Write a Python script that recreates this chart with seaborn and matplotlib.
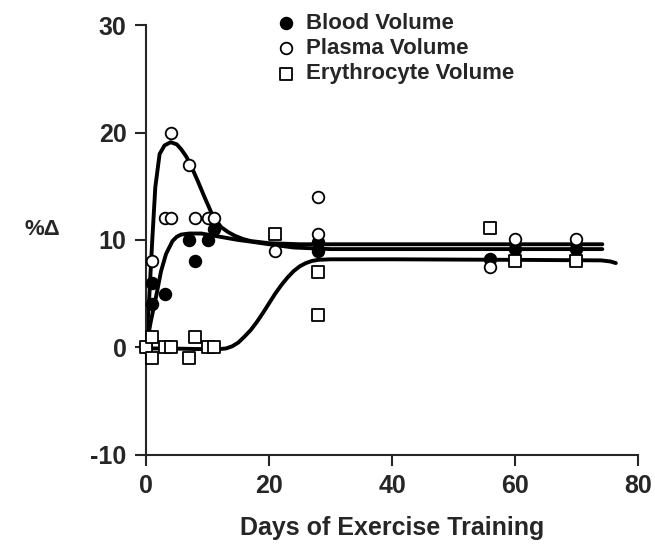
import matplotlib
matplotlib.use('Agg')
import matplotlib.pyplot as plt
import pandas as pd
import seaborn as sns

# measured points (% change vs day of training)
blood_days = [0, 1, 1, 3, 7, 8, 10, 11, 28, 28, 56, 60, 70]
blood_pct = [0, 6, 4, 5, 10, 8, 10, 11, 9.8, 9.0, 8.2, 9.2, 9.2]

plasma_days = [1, 3, 4, 4, 7, 8, 10, 11, 21, 28, 28, 56, 60, 70]
plasma_pct = [8, 12, 12, 20, 17, 12, 12, 12, 9.0, 14, 10.6, 7.5, 10.1, 10.1]

eryth_days = [0, 1, 1, 3, 4, 7, 8, 10, 11, 21, 28, 28, 56, 60, 70]
eryth_pct = [0, 1, -1, 0, 0, -1, 1, 0, 0, 10.6, 7, 3, 11.1, 8.0, 8.0]

# fitted curves
plasma_fit_x = [0, 0.5, 1, 1.5, 2.2, 3, 4, 5, 5.7, 6.5, 7.2, 8.4, 9.5, 10.8, 12.2, 13.3, 14.4, 15.7, 17, 18.5, 20, 22.5, 25, 30, 74.2]
plasma_fit_y = [0, 4.5, 9.9, 14.9, 18, 18.8, 19.1, 18.9, 18.45, 17.8, 17.05, 15.5, 14.0, 12.3, 11.2, 10.75, 10.4, 10.1, 9.9, 9.8, 9.7, 9.65, 9.6, 9.6, 9.6]

blood_fit_x = [0, 0.8, 1.6, 2.44, 3.25, 4.3, 5.0, 5.7, 7, 9, 11, 13, 15, 17, 20, 24, 30, 74.2]
blood_fit_y = [0, 2.5, 4.65, 7.1, 8.7, 9.9, 10.3, 10.5, 10.6, 10.6, 10.4, 10.2, 10.0, 9.85, 9.6, 9.3, 9.15, 9.15]

eryth_fit_x = [0, 4, 8, 12, 13, 14, 15, 16, 17, 18, 19, 20, 21, 22, 23, 24, 25, 26, 27, 28, 30, 40, 60, 74, 75.5, 76.4]
eryth_fit_y = [-0.1, -0.1, -0.15, -0.15, -0.1, 0.1, 0.45, 1.0, 1.6, 2.35, 3.2, 4.1, 5.0, 5.8, 6.5, 7.1, 7.55, 7.85, 8.05, 8.15, 8.2, 8.2, 8.15, 8.1, 8.0, 7.85]

x_ticks = [0, 20, 40, 60, 80]
y_ticks = [-10, 0, 10, 20, 30]

sns.set_style("ticks")
plt.rcParams['font.family'] = ['Liberation Sans', 'DejaVu Sans']
plt.rcParams['font.weight'] = 'bold'
plt.rcParams['axes.unicode_minus'] = False

fig = plt.figure(figsize=(6.55, 5.46), dpi=100)
ax = fig.add_axes([0.223, 0.167, 0.751, 0.787])

# curves first, markers on top
for fx, fy in [(plasma_fit_x, plasma_fit_y), (blood_fit_x, blood_fit_y), (eryth_fit_x, eryth_fit_y)]:
    sns.lineplot(x=fx, y=fy, sort=False, estimator=None, color='black', lw=2.8, ax=ax, zorder=2)

df_blood = pd.DataFrame({'day': blood_days, 'pct': blood_pct})
df_plasma = pd.DataFrame({'day': plasma_days, 'pct': plasma_pct})
df_eryth = pd.DataFrame({'day': eryth_days, 'pct': eryth_pct})

sns.scatterplot(data=df_blood, x='day', y='pct', marker='o', s=70, color='black',
                edgecolor='black', linewidth=1.3, label='Blood Volume', ax=ax, zorder=4, clip_on=False)
sns.scatterplot(data=df_plasma, x='day', y='pct', marker='o', s=70, facecolor='white',
                edgecolor='black', linewidth=1.3, label='Plasma Volume', ax=ax, zorder=4, clip_on=False)
sns.scatterplot(data=df_eryth, x='day', y='pct', marker='s', s=70, facecolor='white',
                edgecolor='black', linewidth=1.3, label='Erythrocyte Volume', ax=ax, zorder=4, clip_on=False)

ax.set_xlim(0, 80)
ax.set_ylim(-10, 30)
ax.set_xticks(x_ticks)
ax.set_yticks(y_ticks)
ax.tick_params(axis='both', labelsize=18, length=8, width=1.5, pad=6)
for lab in ax.get_xticklabels() + ax.get_yticklabels():
    lab.set_fontweight('bold')
sns.despine(ax=ax)
for sp in ['left', 'bottom']:
    ax.spines[sp].set_linewidth(1.5)

ax.set_xlabel('Days of Exercise Training', fontsize=18, fontweight='bold', labelpad=13)
ax.set_ylabel('%\u0394', fontsize=16, fontweight='bold', rotation=0)
ax.yaxis.set_label_coords(-0.211, 0.5)

ax.legend(loc='upper left', bbox_to_anchor=(0.24, 1.05), frameon=False,
          handletextpad=0.3, labelspacing=0.2, borderaxespad=0, handlelength=1.2,
          prop={'weight': 'bold', 'size': 16})

fig.savefig('out.png', dpi=100)
